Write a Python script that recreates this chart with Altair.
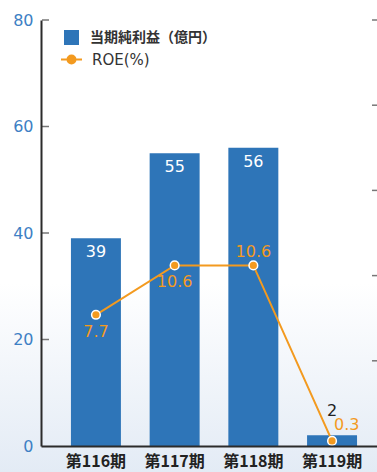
import altair as alt
import pandas as pd

periods = ["第116期", "第117期", "第118期", "第119期"]
profit = [39, 55, 56, 2]
roe = [7.7, 10.6, 10.6, 0.3]
series_names = ["当期純利益（億円）", "ROE(%)"]
left_ticks = [20, 40, 60, 80]
right_ticks = [5, 10, 15, 20, 25]

BLUE = "#2e75b8"
LBLUE = "#3d80c4"
ORANGE = "#f39a1f"
DARK = "#2b2b2b"
NUM_FONT = "DejaVu Sans"
JP_FONT = "Noto Sans CJK JP"

df = pd.DataFrame({"period": periods, "profit": profit, "roe": roe})
df["s1"] = series_names[0]
df["s2"] = series_names[1]

x_enc = alt.X(
    "period:N",
    sort=periods,
    scale=alt.Scale(paddingInner=0.365, paddingOuter=0.317, align=0.6),
    axis=alt.Axis(
        title=None, labelAngle=0, ticks=False, domainColor=DARK, domainWidth=2,
        labelFont=JP_FONT, labelFontSize=16, labelFontWeight="bold",
        labelColor="#222222", labelPadding=7, grid=False, zindex=1,
    ),
)

y_left = alt.Y(
    "profit:Q",
    scale=alt.Scale(domain=[0, 80], nice=False),
    axis=alt.Axis(
        values=[0, 20, 40, 60, 80], title=None, ticks=False, domainColor=DARK,
        domainWidth=2, labelColor=LBLUE, labelFont=NUM_FONT, labelFontSize=16,
        labelPadding=8, grid=False, zindex=1,
    ),
)
y_right = alt.Y("roe:Q", scale=alt.Scale(domain=[0, 25], nice=False), axis=None)

base = alt.Chart(df)

bg = alt.Chart(pd.DataFrame({"k": [0]})).mark_rect(
    color=alt.LinearGradient(
        gradient="linear",
        stops=[
            alt.GradientStop(color="#ffffff", offset=0),
            alt.GradientStop(color="#ffffff", offset=0.6),
            alt.GradientStop(color="#e3ebf5", offset=1),
        ],
        x1=0, x2=0, y1=0, y2=1,
    )
).encode(x=alt.value(-41), x2=alt.value(336), y=alt.value(-20), y2=alt.value(452))

bars = base.mark_bar(opacity=1).encode(
    x=x_enc,
    y=y_left,
    color=alt.Color(
        "s1:N",
        scale=alt.Scale(domain=[series_names[0]], range=[BLUE]),
        legend=alt.Legend(
            orient="none", legendX=23, legendY=10, title=None, padding=0,
            symbolType="square", symbolSize=225, symbolStrokeWidth=0,
            labelFont=JP_FONT, labelFontSize=14, labelFontWeight="bold",
            labelColor="#333333", labelOffset=11,
        ),
    ),
)

bar_lab_in = base.transform_filter("datum.profit >= 10").mark_text(
    color="white", font=NUM_FONT, fontSize=16, baseline="top", dy=6
).encode(x=x_enc, y=y_left, text="profit:Q")

bar_lab_out = base.transform_filter("datum.profit < 10").mark_text(
    color="#222222", font=NUM_FONT, fontSize=16, baseline="alphabetic", dy=-19
).encode(x=x_enc, y=y_left, text="profit:Q")

lticks = alt.Chart(pd.DataFrame({"profit": left_ticks})).mark_rule(
    color="#777777", strokeWidth=1.5
).encode(y=y_left, x=alt.value(1), x2=alt.value(8))

left = alt.layer(bars, bar_lab_in, bar_lab_out, lticks)

sym = "M-1,0H-0.38M0.38,0H1M0.38,0A0.38,0.38,0,1,1,-0.38,0A0.38,0.38,0,1,1,0.38,0Z"
line = base.mark_line(strokeWidth=2).encode(
    x=x_enc,
    y=y_right,
    stroke=alt.Stroke(
        "s2:N",
        scale=alt.Scale(domain=[series_names[1]], range=[ORANGE]),
        legend=alt.Legend(
            orient="none", legendX=19, legendY=28, title=None, padding=0,
            symbolType=sym, symbolSize=441, symbolStrokeWidth=2,
            symbolFillColor=ORANGE,
            labelFont=NUM_FONT, labelFontSize=15,
            labelColor="#333333", labelOffset=9,
        ),
    ),
)

points = base.mark_circle(
    color=ORANGE, stroke="white", strokeWidth=1.5, size=75, opacity=1
).encode(x=x_enc, y=y_right)

lab_below = base.transform_filter(
    alt.FieldOneOfPredicate(field="period", oneOf=periods[:2])
).mark_text(color=ORANGE, font=NUM_FONT, fontSize=16, baseline="alphabetic", dy=22).encode(
    x=x_enc, y=y_right, text=alt.Text("roe:Q", format=".1f")
)
lab_above = base.transform_filter(
    alt.FieldEqualPredicate(field="period", equal=periods[2])
).mark_text(color=ORANGE, font=NUM_FONT, fontSize=16, baseline="alphabetic", dy=-8).encode(
    x=x_enc, y=y_right, text=alt.Text("roe:Q", format=".1f")
)
lab_right = base.transform_filter(
    alt.FieldEqualPredicate(field="period", equal=periods[3])
).mark_text(
    color=ORANGE, font=NUM_FONT, fontSize=16, baseline="alphabetic", align="left", dx=2, dy=-11
).encode(x=x_enc, y=y_right, text=alt.Text("roe:Q", format=".1f"))

rticks = alt.Chart(pd.DataFrame({"roe": right_ticks})).mark_rule(
    color="#777777", strokeWidth=1.5
).encode(y=y_right, x=alt.value(331), x2=alt.value(336))

right = alt.layer(line, points, lab_below, lab_above, lab_right, rticks)

chart = (
    alt.layer(bg, left, right)
    .resolve_scale(y="independent")
    .properties(
        width=336,
        height=426,
        autosize=alt.AutoSizeParams(type="none"),
        padding={"left": 41, "top": 20, "right": 0, "bottom": 26},
        background="white",
    )
    .configure_view(stroke=None)
)

chart.save("out.html", embed_options={"renderer": "svg", "actions": False})
